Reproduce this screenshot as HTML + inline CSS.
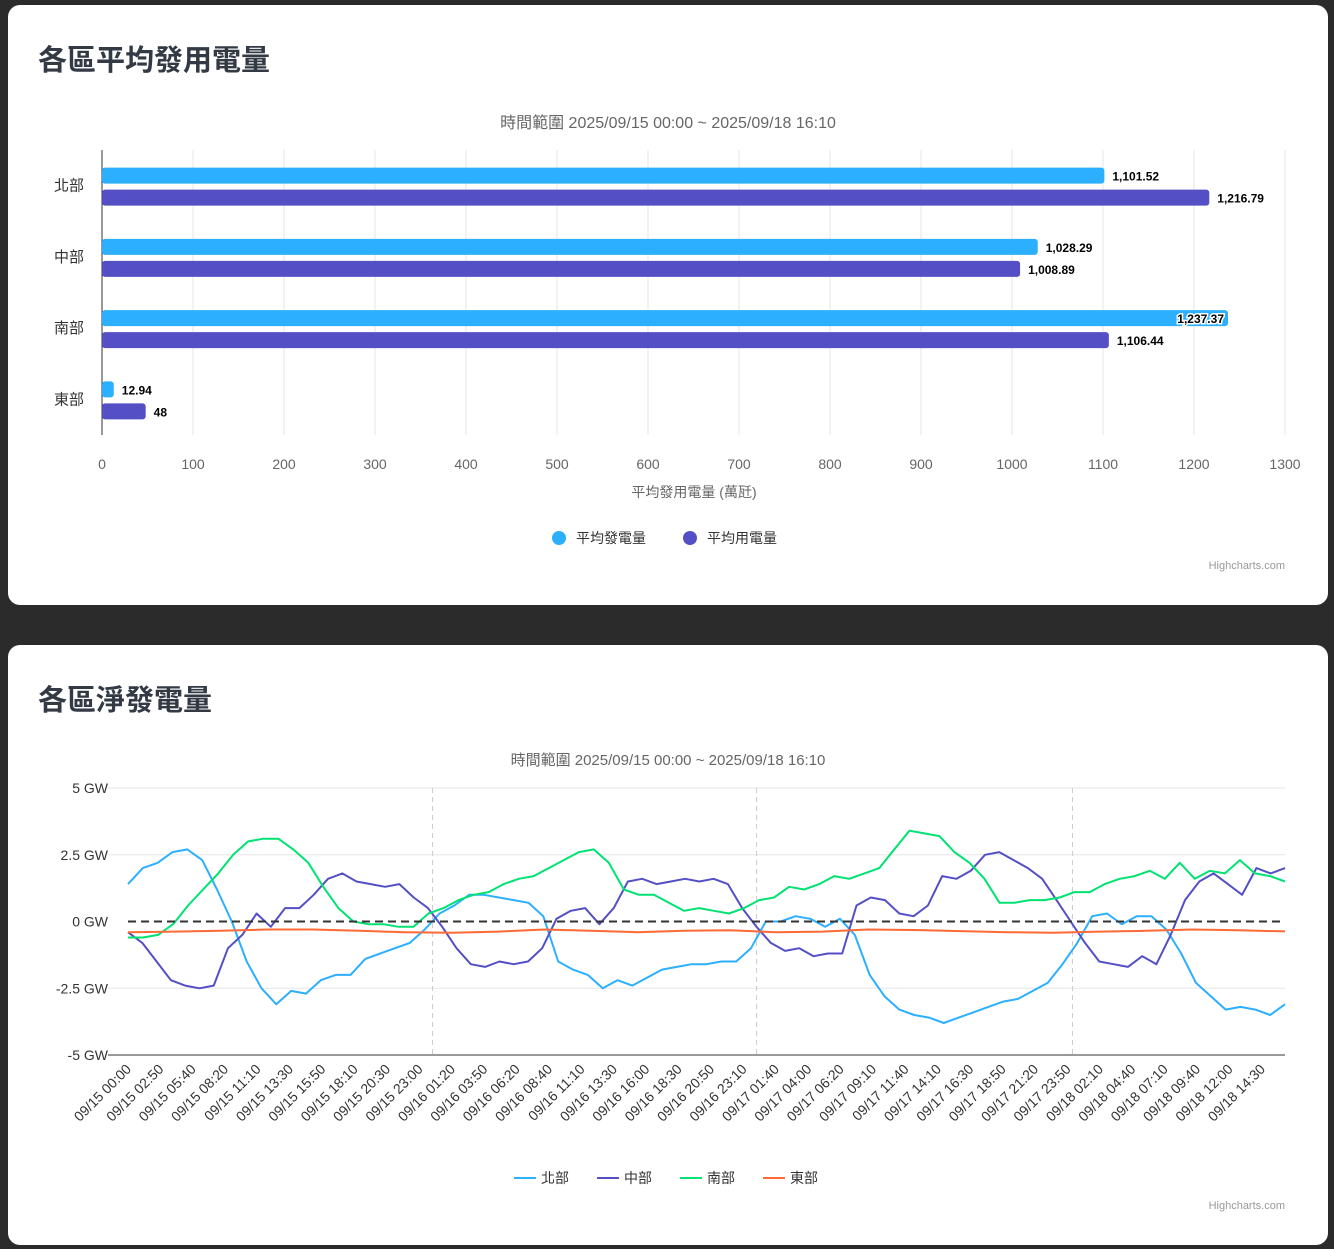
<!DOCTYPE html>
<html><head><meta charset="utf-8">
<style>
body{margin:0;background:#2b2b2b;width:1334px;height:1249px;overflow:hidden;font-family:"Liberation Sans","Noto Sans CJK TC",sans-serif;}
.card{position:absolute;left:8px;width:1320px;background:#fff;border-radius:12px;}
h2{position:absolute;left:30px;margin:0;font-size:29px;font-weight:bold;color:#333a44;font-family:"Liberation Sans","Noto Sans CJK TC",sans-serif;}
svg text{font-family:"Liberation Sans","Noto Sans CJK TC",sans-serif;}
</style></head><body>
<div class="card" style="top:5px;height:600px;">
<h2 style="top:32px">各區平均發用電量</h2>
</div>
<div class="card" style="top:645px;height:600px;">
<h2 style="top:32px">各區淨發電量</h2>
</div>
<svg id="s" width="1334" height="1249" style="position:absolute;left:0;top:0" xmlns="http://www.w3.org/2000/svg">
<text x="668" y="128" text-anchor="middle" font-size="16" fill="#666">時間範圍 2025/09/15 00:00 ~ 2025/09/18 16:10</text>
<text x="694" y="497" text-anchor="middle" font-size="14" fill="#666">平均發用電量 (萬瓩)</text>
<g><circle cx="559" cy="538" r="7" fill="#2caffe"/><text x="576" y="543" font-size="14" fill="#333">平均發電量</text></g>
<g><circle cx="690" cy="538" r="7" fill="#544fc5"/><text x="707" y="543" font-size="14" fill="#333">平均用電量</text></g>
<text x="1285" y="569" text-anchor="end" font-size="11" fill="#999">Highcharts.com</text>
<text x="668" y="765" text-anchor="middle" font-size="15" fill="#666">時間範圍 2025/09/15 00:00 ~ 2025/09/18 16:10</text>
<g><line x1="514" y1="1178" x2="536" y2="1178" stroke="#2caffe" stroke-width="2"/><text x="541" y="1183" font-size="14" fill="#333">北部</text></g>
<g><line x1="597" y1="1178" x2="619" y2="1178" stroke="#544fc5" stroke-width="2"/><text x="624" y="1183" font-size="14" fill="#333">中部</text></g>
<g><line x1="680" y1="1178" x2="702" y2="1178" stroke="#00e272" stroke-width="2"/><text x="707" y="1183" font-size="14" fill="#333">南部</text></g>
<g><line x1="763" y1="1178" x2="785" y2="1178" stroke="#fe6a35" stroke-width="2"/><text x="790" y="1183" font-size="14" fill="#333">東部</text></g>
<text x="1285" y="1209" text-anchor="end" font-size="11" fill="#999">Highcharts.com</text>
<g id="bar"></g><g id="line"></g>
</svg>
<script>
const regions=["北部","中部","南部","東部"];
const genValues=[1101.52,1028.29,1237.37,12.94];
const useValues=[1216.79,1008.89,1106.44,48];
const barTicks=[0,100,200,300,400,500,600,700,800,900,1000,1100,1200,1300];

const timeLabels=["09/15 00:00","09/15 02:50","09/15 05:40","09/15 08:20","09/15 11:10","09/15 13:30","09/15 15:50","09/15 18:10","09/15 20:30","09/15 23:00","09/16 01:20","09/16 03:50","09/16 06:20","09/16 08:40","09/16 11:10","09/16 13:30","09/16 16:00","09/16 18:30","09/16 20:50","09/16 23:10","09/17 01:40","09/17 04:00","09/17 06:20","09/17 09:10","09/17 11:40","09/17 14:10","09/17 16:30","09/17 18:50","09/17 21:20","09/17 23:50","09/18 02:10","09/18 04:40","09/18 07:10","09/18 09:40","09/18 12:00","09/18 14:30"];
const yTicks=[5,2.5,0,-2.5,-5];
const dayLines=[9.4,19.4,29.15];
const north=[1.4,2.0,2.2,2.6,2.7,2.3,1.2,0,-1.5,-2.5,-3.1,-2.6,-2.7,-2.2,-2.0,-2.0,-1.4,-1.2,-1.0,-0.8,-0.3,0.3,0.6,1.0,1.0,0.9,0.8,0.7,0.2,-1.5,-1.8,-2.0,-2.5,-2.2,-2.4,-2.1,-1.8,-1.7,-1.6,-1.6,-1.5,-1.5,-1.0,0,0,0.2,0.1,-0.2,0.1,-0.5,-2.0,-2.8,-3.3,-3.5,-3.6,-3.8,-3.6,-3.4,-3.2,-3.0,-2.9,-2.6,-2.3,-1.6,-0.8,0.2,0.3,-0.1,0.2,0.2,-0.3,-1.2,-2.3,-2.8,-3.3,-3.2,-3.3,-3.5,-3.1];
const central=[-0.4,-0.8,-1.5,-2.2,-2.4,-2.5,-2.4,-1.0,-0.5,0.3,-0.2,0.5,0.5,1.0,1.6,1.8,1.5,1.4,1.3,1.4,0.9,0.5,-0.2,-1.0,-1.6,-1.7,-1.5,-1.6,-1.5,-1.0,0.1,0.4,0.5,-0.1,0.5,1.5,1.6,1.4,1.5,1.6,1.5,1.6,1.4,0.5,-0.2,-0.8,-1.1,-1.0,-1.3,-1.2,-1.2,0.6,0.9,0.8,0.3,0.2,0.6,1.7,1.6,1.9,2.5,2.6,2.3,2.0,1.6,0.8,0,-0.8,-1.5,-1.6,-1.7,-1.3,-1.6,-0.5,0.8,1.5,1.8,1.4,1.0,2.0,1.8,2.0];
const south=[-0.6,-0.6,-0.5,-0.1,0.6,1.2,1.8,2.5,3.0,3.1,3.1,2.7,2.2,1.3,0.5,0.0,-0.1,-0.1,-0.2,-0.2,0.3,0.5,0.8,1.0,1.1,1.4,1.6,1.7,2.0,2.3,2.6,2.7,2.2,1.2,1.0,1.0,0.7,0.4,0.5,0.4,0.3,0.5,0.8,0.9,1.3,1.2,1.4,1.7,1.6,1.8,2.0,2.7,3.4,3.3,3.2,2.6,2.2,1.6,0.7,0.7,0.8,0.8,0.9,1.1,1.1,1.4,1.6,1.7,1.9,1.6,2.2,1.6,1.9,1.8,2.3,1.8,1.7,1.5];
const east=[-0.4,-0.38,-0.35,-0.3,-0.3,-0.35,-0.4,-0.42,-0.38,-0.3,-0.35,-0.4,-0.35,-0.33,-0.4,-0.38,-0.3,-0.32,-0.36,-0.4,-0.42,-0.38,-0.35,-0.3,-0.33,-0.37];

const NS="http://www.w3.org/2000/svg";
function mk(p,t,a,txt){const e=document.createElementNS(NS,t);for(const k in a)e.setAttribute(k,a[k]);if(txt!==undefined)e.textContent=txt;p.appendChild(e);return e;}
const bg=document.getElementById('bar');
const bx0=102,bx1=1285,by0=150,by1=435;
const bX=v=>bx0+(v/1300)*(bx1-bx0);
const band=(by1-by0)/regions.length;
barTicks.forEach(t=>{
 const g=mk(bg,'line',{x1:bX(t),x2:bX(t),y1:by0,y2:by1,stroke:'#e6e6e6'});
 
 
 const l=mk(bg,'text',{x:bX(t),y:469,'text-anchor':'middle','font-size':14,fill:'#666'},t);
 
 
});
const ax=mk(bg,'line',{x1:bx0,x2:bx0,y1:by0,y2:by1,stroke:'#333'});


regions.forEach((r,i)=>{
 const cy=by0+band*(i+0.5);
 const t=mk(bg,'text',{x:84,y:cy+5,'text-anchor':'end','font-size':15,fill:'#333'},r);
 
 
 [[genValues[i],'#2caffe',-21],[useValues[i],'#544fc5',1]].forEach(([v,c,off],j)=>{
  const w=Math.max(bX(v)-bx0,2);
  const b=mk(bg,'rect',{x:bx0,y:cy+off+3,width:w,height:16,rx:3,fill:c});
  
  
  const s=v.toLocaleString('en-US');
  const inside=v>1230;
  const lb=mk(bg,'text',{x:inside?bX(v)-4:bX(v)+8,y:cy+off+16,'text-anchor':inside?'end':'start','font-size':12,'font-weight':'bold',fill:'#000',stroke:'#fff','stroke-width':inside?3:0,'paint-order':'stroke'},s);
  
  
 });
});
const lg=document.getElementById('line');
const lx0=128,lx1=1285,ly0=788,ly1=1055;
const lY=v=>ly0+(5-v)/10*(ly1-ly0);
const lblStep=32.4;
yTicks.forEach(t=>{
 if(t!==-5&&t!==0){const g=mk(lg,'line',{x1:lx0-20,x2:lx1,y1:lY(t),y2:lY(t),stroke:'#e6e6e6'});
 
 }
 const l=mk(lg,'text',{x:108,y:lY(t)+5,'text-anchor':'end','font-size':14,fill:'#333'},(t===0?'0':t)+' GW');
 
 
});
dayLines.forEach(d=>{
 const x=lx0+d*lblStep;
 const l=mk(lg,'line',{x1:x,x2:x,y1:ly0,y2:ly1,stroke:'#ccc','stroke-dasharray':'5,4'});
 
 
});
const base=mk(lg,'line',{x1:lx0-20,x2:lx1,y1:ly1,y2:ly1,stroke:'#333'});


timeLabels.forEach((t,i)=>{
 const x=lx0+i*lblStep;
 const l=mk(lg,'text',{x:x+4,y:1070,'text-anchor':'end','font-size':14,fill:'#333',transform:`rotate(-45 ${x+4} 1070)`},t);
 
 
});
[[north,'#2caffe','line-north'],[central,'#544fc5','line-central'],[south,'#00e272','line-south'],[east,'#fe6a35','line-east']].forEach(([d,c,n])=>{
 const pts=d.map((v,i)=>(lx0+i/(d.length-1)*(lx1-lx0)).toFixed(1)+','+lY(v).toFixed(1)).join(' ');
 const p=mk(lg,'polyline',{points:pts,fill:'none',stroke:c,'stroke-width':2,'stroke-linejoin':'round'});
 
 
});
const z=mk(lg,'line',{x1:lx0,x2:lx1,y1:lY(0),y2:lY(0),stroke:'#333','stroke-width':2,'stroke-dasharray':'8,5'});


</script>
</body></html>
